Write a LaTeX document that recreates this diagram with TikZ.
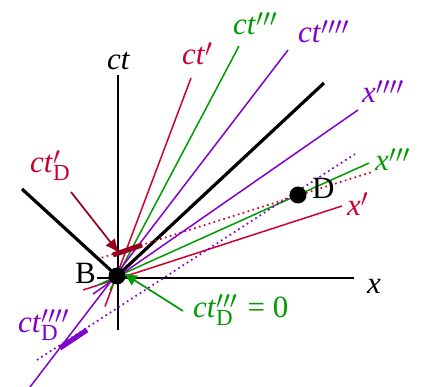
\documentclass[tikz,border=0pt]{standalone}
\usepackage{fontspec}
\usepackage{graphicx}
\setmainfont{Liberation Serif}
\usetikzlibrary{arrows.meta}
\definecolor{cred}{RGB}{204,0,51}
\definecolor{cdred}{RGB}{150,0,30}
\definecolor{cgreen}{RGB}{0,155,0}
\definecolor{cpurple}{RGB}{128,0,204}
\newcommand{\pr}[1]{\raisebox{-2pt}{\scalebox{1.2}{$^{#1}$}}}
\newcommand{\subD}{\raisebox{-8pt}{\fontsize{23}{23}\selectfont D}}
\begin{document}
\begin{tikzpicture}[x=1pt,y=-1pt,
  lab/.style={anchor=base west,inner sep=0pt,font=\fontsize{31}{33}\selectfont},
  thinln/.style={line width=1.5pt},
  dotln/.style={line width=1.7pt,dash pattern=on 1.7pt off 3.4pt},
  tickln/.style={line width=5pt},
  arr/.style={line width=1.7pt,-{Latex[length=14pt,width=12pt]}}]
\useasboundingbox (0,0) rectangle (422,387);
% origin and events
\coordinate (O) at (117,276);
\coordinate (Dp) at (298,195);
% axes
\coordinate (ctb) at (118,330); \coordinate (ctt) at (118,75);
\coordinate (xl) at (97,278); \coordinate (xr) at (354,278);
\draw[line width=1.7pt] (ctb) -- (ctt);
\draw[line width=1.7pt] (xl) -- (xr);
% light cone
\coordinate (lcL) at (22,189); \coordinate (lcR) at (324,83);
\draw[line width=3.2pt] (lcL) -- (O) -- (lcR);
% red frame
\coordinate (r1a) at (105,306.5); \coordinate (r1b) at (191,78);
\coordinate (r2a) at (83,290); \coordinate (r2b) at (342,206);
\coordinate (rd1) at (101.7,257.7); \coordinate (rd2) at (372,172);
\draw[cred,thinln] (r1a) -- (r1b);
\draw[cred,thinln] (r2a) -- (r2b);
\draw[cred,dotln] (rd1) -- (rd2);
% green frame
\coordinate (g1a) at (110,290); \coordinate (g1b) at (239,46);
\coordinate (g2a) at (98,285); \coordinate (g2b) at (369,163);
\draw[cgreen,thinln] (g1a) -- (g1b);
\draw[cgreen,thinln] (g2a) -- (g2b);
% purple frame
\coordinate (p1a) at (30,387); \coordinate (p1b) at (288,50);
\coordinate (p2a) at (93,294); \coordinate (p2b) at (358,110);
\coordinate (pd1) at (37,360); \coordinate (pd2) at (355,154);
\draw[cpurple,thinln] (p1a) -- (p1b);
\draw[cpurple,thinln] (p2a) -- (p2b);
\draw[cpurple,dotln] (pd1) -- (pd2);
% ticks
\coordinate (rt1) at (113,255); \coordinate (rt2) at (142,245);
\draw[cdred,tickln] (rt1) -- (rt2);
\coordinate (pt1) at (60,348); \coordinate (pt2) at (87,330);
\draw[cpurple,tickln] (pt1) -- (pt2);
% arrows
\coordinate (ra1) at (71,192); \coordinate (ra2) at (119,253);
\draw[cdred,arr] (ra1) -- (ra2);
\coordinate (ga1) at (183,311); \coordinate (ga2) at (123,273);
\draw[cgreen,arr] (ga1) -- (ga2);
% dots
\fill (O) circle (8.5);
\fill (Dp) circle (8.5);
% labels
\node[lab] (lct) at (107,70) {\textit{ct}};
\node[lab,text=cred] (lct1) at (182,65) {\textit{ct}\pr{\prime}};
\node[lab,text=cgreen] (lct3) at (233,35) {\textit{ct}\pr{\prime\prime\prime}};
\node[lab,text=cpurple] (lct4) at (298,43) {\textit{ct}\pr{\prime\prime\prime\prime}};
\node[lab,text=cpurple] (lx4) at (362,103) {\textit{x}\pr{\prime\prime\prime\prime}};
\node[lab,text=cgreen] (lx3) at (375,171) {\textit{x}\pr{\prime\prime\prime}};
\node[lab,text=cred] (lx1) at (347,215) {\textit{x}\pr{\prime}};
\node[lab] (lx) at (367,293) {\textit{x}};
\node[lab] (lD) at (312,198) {D};
\node[lab] (lB) at (75,283) {B};
\node[lab,text=cred] (lctD1) at (30,173) {\textit{ct}\rlap{\pr{\prime}}\subD};
\node[lab,text=cpurple] (lctD4) at (18,332) {\textit{ct}\rlap{\pr{\prime\prime\prime\prime}}\subD};
\node[lab,text=cgreen] (lctD3) at (193,317) {\textit{ct}\rlap{\pr{\prime\prime\prime}}\subD\hspace{7pt} = 0};
\end{tikzpicture}
\end{document}
